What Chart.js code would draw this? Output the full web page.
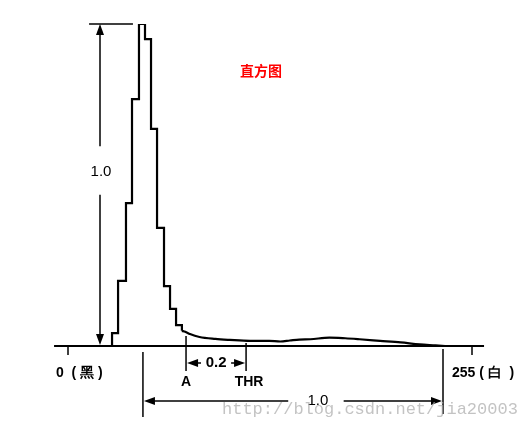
<!DOCTYPE html>
<html><head><meta charset="utf-8">
<script src="https://cdn.jsdelivr.net/npm/chart.js@4"></script>
<style>html,body{margin:0;padding:0;background:#fff;} #wrap{width:526px;height:429px;position:relative;}</style>
</head><body><div id="wrap"><canvas id="c" width="526" height="429"></canvas></div>
<script>
// Histogram steps: gray level where the step happens, and the new relative height
const stepEdges   = [27.8, 31.6, 36.6, 40.4, 44.8, 48.6, 52.4, 56.2, 60.6, 64.4, 68.2, 71.9];
const stepHeights = [0.040, 0.202, 0.444, 0.767, 1.000, 0.953, 0.674, 0.367, 0.186, 0.115, 0.065, 0.047];
// Long low tail of the histogram
const tailX = [71.9, 74, 77, 83, 93, 102, 115, 127, 134, 140, 146, 153, 165, 175, 184, 197, 210, 222, 232, 238];
const tailY = [0.047, 0.044, 0.037, 0.028, 0.022, 0.019, 0.016, 0.016, 0.014, 0.017, 0.020, 0.021, 0.026, 0.024, 0.021, 0.016, 0.011, 0.005, 0.002, 0.0];
const axisTicks = [0, 255];
const axisTickLabels = ['0  ( 黑 )', '255 ( 白  )'];
const markerA = 74.5;
const markerTHR = 112.4;
const markerLabels = ['A', 'THR'];
const gapLabel = '0.2';
const rangeStart = 47.3;
const rangeEnd = 236.7;
const rangeLabel = '1.0';
const peakLabel = '1.0';
const titleText = '直方图';
const watermarkText = 'http://blog.csdn.net/jia20003';

const histData = [{x: stepEdges[0], y: 0}].concat(stepEdges.map((x, i) => ({x, y: stepHeights[i]})));
const tailData = tailX.map((x, i) => ({x, y: tailY[i]}));

function arrowHead(ctx, tx, ty, dir) {
  const L = 11, W = 4;
  ctx.beginPath();
  ctx.moveTo(tx, ty);
  if (dir === 'up') { ctx.lineTo(tx - W, ty + L); ctx.lineTo(tx + W, ty + L); }
  if (dir === 'down') { ctx.lineTo(tx - W, ty - L); ctx.lineTo(tx + W, ty - L); }
  if (dir === 'left') { ctx.lineTo(tx + L, ty - W); ctx.lineTo(tx + L, ty + W); }
  if (dir === 'right') { ctx.lineTo(tx - L, ty - W); ctx.lineTo(tx - L, ty + W); }
  ctx.closePath();
  ctx.fill();
}
function seg(ctx, x1, y1, x2, y2, w) {
  ctx.lineWidth = w;
  ctx.beginPath(); ctx.moveTo(x1, y1); ctx.lineTo(x2, y2); ctx.stroke();
}

const annot = {
  id: 'annot',
  afterDatasetsDraw(chart) {
    const ctx = chart.ctx;
    const xs = chart.scales.x, ys = chart.scales.y;
    const X = v => xs.getPixelForValue(v);
    const Y = v => ys.getPixelForValue(v);
    const y0 = Y(0);
    ctx.save();
    ctx.strokeStyle = '#000'; ctx.fillStyle = '#000';
    // baseline
    seg(ctx, X(-8.8), y0, X(262.6), y0, 2);
    // ticks
    axisTicks.forEach(t => seg(ctx, X(t), y0, X(t), y0 + 9, 1.5));
    // tick labels
    ctx.font = 'bold 14px "Liberation Sans", Arial, sans-serif';
    ctx.textBaseline = 'middle'; ctx.textAlign = 'left';
    ctx.fillText(axisTickLabels[0], X(axisTicks[0]) - 12, y0 + 27);
    ctx.fillText(axisTickLabels[1], X(axisTicks[1]) - 20, y0 + 27);

    // peak height arrow
    const ax = X(20.2);
    seg(ctx, X(13.3), Y(1), X(41), Y(1), 1.5);
    seg(ctx, ax, Y(1) + 8, ax, Y(0.62), 1.5);
    seg(ctx, ax, Y(0.47), ax, y0 - 8, 1.5);
    arrowHead(ctx, ax, Y(1), 'up');
    arrowHead(ctx, ax, y0 - 1, 'down');
    ctx.font = '15px "Liberation Sans", Arial, sans-serif';
    ctx.textAlign = 'center';
    ctx.fillText(peakLabel, ax + 1, Y(0.54));

    // A and THR markers
    const xa = X(markerA), xt = X(markerTHR);
    seg(ctx, xa, y0 - 10, xa, y0 + 25, 1.5);
    seg(ctx, xt, y0 - 3, xt, y0 + 25, 1.5);
    const ya = y0 + 17;
    seg(ctx, xa + 4, ya, xa + 15, ya, 1.5);
    seg(ctx, xt - 15, ya, xt - 4, ya, 1.5);
    arrowHead(ctx, xa + 1, ya, 'left');
    arrowHead(ctx, xt - 1, ya, 'right');
    ctx.font = 'bold 15px "Liberation Sans", Arial, sans-serif';
    ctx.fillText(gapLabel, (xa + xt) / 2, ya);
    ctx.font = 'bold 14px "Liberation Sans", Arial, sans-serif';
    ctx.fillText(markerLabels[0], xa, y0 + 36);
    ctx.fillText(markerLabels[1], xt + 3, y0 + 36);

    // full range arrow
    const xr1 = X(rangeStart), xr2 = X(rangeEnd);
    const yr = y0 + 55;
    seg(ctx, xr1, y0 + 6, xr1, y0 + 71, 1.5);
    seg(ctx, xr2, y0 + 3, xr2, y0 + 68, 1.5);
    seg(ctx, xr1 + 4, yr, X(139), yr, 1.5);
    seg(ctx, X(174), yr, xr2 - 4, yr, 1.5);
    arrowHead(ctx, xr1 + 1, yr, 'left');
    arrowHead(ctx, xr2 - 1, yr, 'right');
    ctx.font = '15px "Liberation Sans", Arial, sans-serif';
    ctx.fillText(rangeLabel, (X(139) + X(174)) / 2 + 2, yr);

    // title
    ctx.fillStyle = '#f00';
    ctx.font = 'bold 14px "Noto Sans CJK SC", sans-serif';
    ctx.fillText(titleText, 261, 71);

    // watermark
    ctx.fillStyle = 'rgba(170,170,170,0.7)';
    ctx.font = '17px "Liberation Mono", monospace';
    ctx.textAlign = 'left';
    ctx.fillText(watermarkText, 222, 409);
    ctx.restore();
  }
};

new Chart(document.getElementById('c'), {
  type: 'line',
  data: {
    datasets: [
      { data: histData, stepped: true, borderColor: '#000', borderWidth: 2.2, pointRadius: 0, fill: false },
      { data: tailData, tension: 0.35, cubicInterpolationMode: 'monotone', borderColor: '#000', borderWidth: 2.2, pointRadius: 0, fill: false }
    ]
  },
  options: {
    responsive: false,
    animation: false,
    events: [],
    layout: { padding: { left: 68, right: 54, top: 24, bottom: 83 } },
    scales: {
      x: { type: 'linear', min: 0, max: 255, display: false },
      y: { min: 0, max: 1, display: false }
    },
    plugins: { legend: { display: false }, tooltip: { enabled: false }, title: { display: false } }
  },
  plugins: [annot]
});
</script>
</body></html>
